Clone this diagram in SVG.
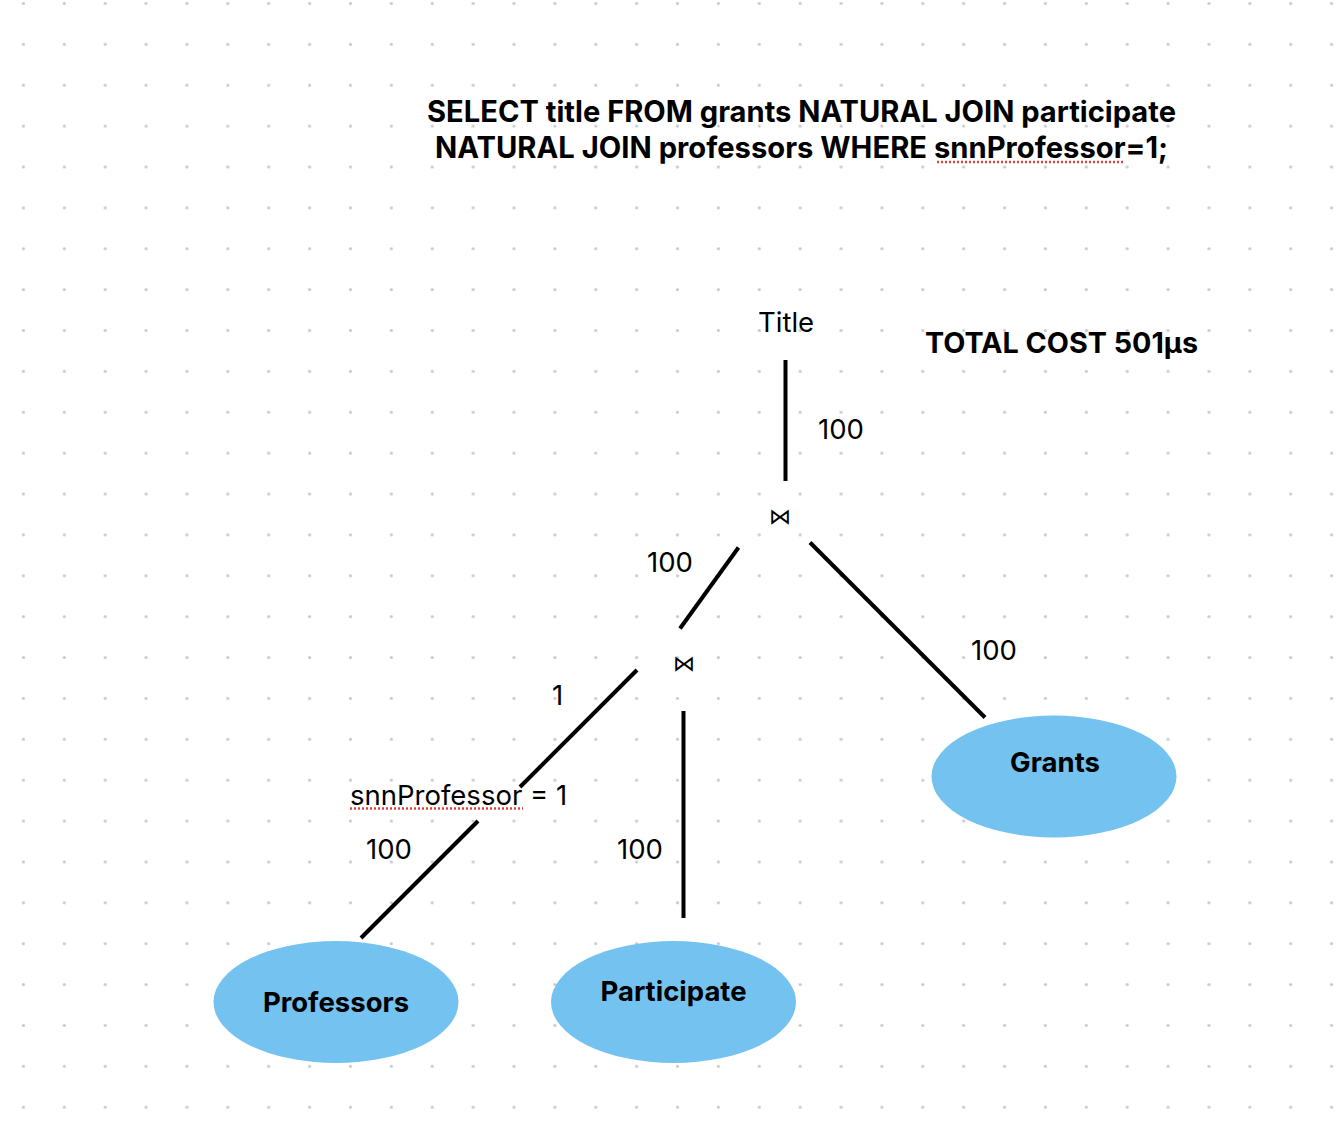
<svg xmlns="http://www.w3.org/2000/svg" width="1338" height="1128" viewBox="0 0 1338 1128">
  <defs>
    <pattern id="dots" patternUnits="userSpaceOnUse" x="3" y="-17" width="40.88" height="40.88">
      <circle cx="20.44" cy="20.44" r="1.6" fill="#c9c9c9"/>
    </pattern>
    <style>
      .lbl { font-family: Inter, "Liberation Sans", sans-serif; font-size: 27.5px; fill: #000; }
      .bold { font-family: Inter, "Liberation Sans", sans-serif; font-weight: bold; fill: #000; }
      .node ellipse { fill: #74C2EF; }
      .node text { font-family: Inter, "Liberation Sans", sans-serif; font-weight: bold; font-size: 27.5px; fill: #000; text-anchor: middle; }
      .edge { stroke: #000; stroke-width: 4; fill: none; }
      .op { font-family: "DejaVu Sans", sans-serif; font-size: 22px; fill: #000; text-anchor: middle; }
      .spell { stroke: #e0433b; stroke-width: 2.5; stroke-dasharray: 2 2; fill: none; }
    </style>
  </defs>
  <rect width="1338" height="1128" fill="#fff"/>
  <rect width="1338" height="1128" fill="url(#dots)"/>

  <g id="query">
    <text class="bold" font-size="29.2" x="427" y="122" textLength="749" lengthAdjust="spacingAndGlyphs">SELECT title FROM grants NATURAL JOIN participate</text>
    <text class="bold" font-size="29.2" x="435" y="158" textLength="733" lengthAdjust="spacingAndGlyphs">NATURAL JOIN professors WHERE snnProfessor=1;</text>
    <line class="spell" x1="937" y1="162" x2="1124" y2="162"/>
  </g>
  <g id="total-cost">
    <text class="bold" font-size="28.8" x="925" y="353" textLength="273" lengthAdjust="spacingAndGlyphs">TOTAL COST 501µs</text>
  </g>

  <g id="connectors">
    <line class="edge" x1="785.5" y1="360" x2="785.5" y2="481"/>
    <line class="edge" x1="738.5" y1="547.5" x2="680" y2="628.5"/>
    <line class="edge" x1="810" y1="542.5" x2="985" y2="717.5"/>
    <line class="edge" x1="637" y1="670" x2="520" y2="787"/>
    <line class="edge" x1="478" y1="821" x2="361" y2="938"/>
    <line class="edge" x1="683.5" y1="711" x2="683.5" y2="918"/>
    <text class="lbl" x="818" y="439">100</text>
    <text class="lbl" x="647" y="572">100</text>
    <text class="lbl" x="971" y="660">100</text>
    <text class="lbl" x="552" y="705">1</text>
    <text class="lbl" x="366" y="859">100</text>
    <text class="lbl" x="617" y="859">100</text>
  </g>

  <g id="title-node">
    <text class="lbl" x="758" y="332">Title</text>
  </g>
  <g id="join-top">
    <text class="op" x="780" y="524">⋈</text>
  </g>
  <g id="join-bottom">
    <text class="op" x="684" y="671">⋈</text>
  </g>
  <g id="selection">
    <text class="lbl" x="350" y="805">snnProfessor = 1</text>
    <line class="spell" x1="350" y1="808.5" x2="523" y2="808.5"/>
  </g>

  <g id="node-grants" class="node">
    <ellipse cx="1054" cy="776.5" rx="122.5" ry="61"/>
    <text x="1055" y="772">Grants</text>
  </g>
  <g id="node-professors" class="node">
    <ellipse cx="336" cy="1002" rx="122.5" ry="61"/>
    <text x="336" y="1012">Professors</text>
  </g>
  <g id="node-participate" class="node">
    <ellipse cx="673.5" cy="1002" rx="122.5" ry="61"/>
    <text x="673.5" y="1001">Participate</text>
  </g>
</svg>
